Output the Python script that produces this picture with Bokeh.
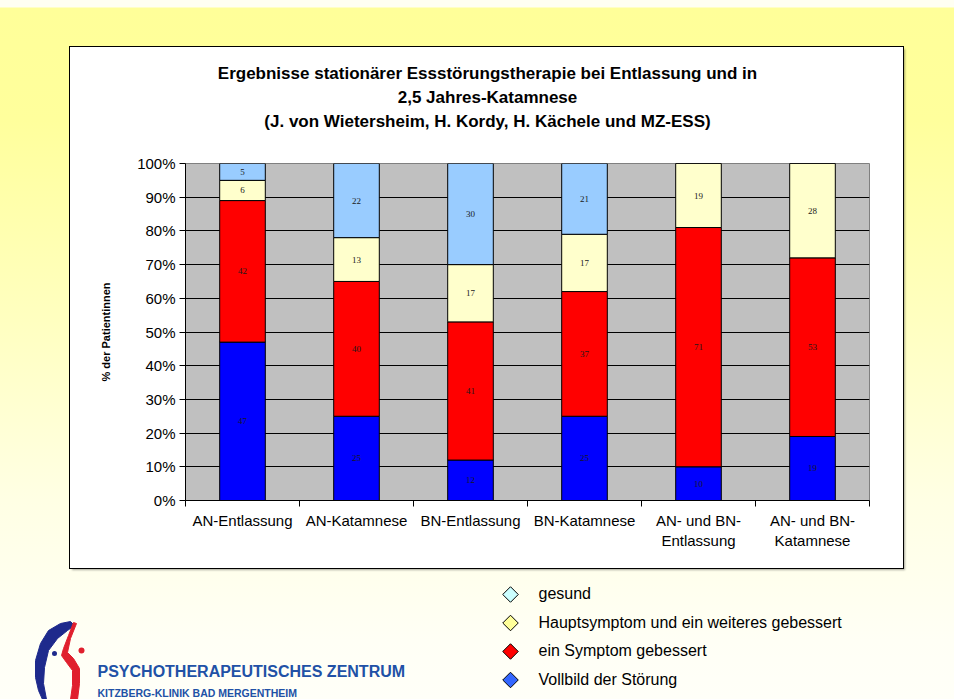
import math
from bokeh.plotting import figure
from bokeh.models import (ColumnDataSource, FixedTicker, NumeralTickFormatter, Range1d,
                          LabelSet, Spacer)
from bokeh.layouts import column, row
from bokeh.core.properties import value
from bokeh.embed import file_html
from bokeh.resources import INLINE

# ---------------- data ----------------
categories = ["AN-Entlassung", "AN-Katamnese", "BN-Entlassung", "BN-Katamnese",
              "AN- und BN-\nEntlassung", "AN- und BN-\nKatamnese"]
vollbild = [47, 25, 12, 25, 10, 19]          # Vollbild der Störung
ein_symptom = [42, 40, 41, 37, 71, 53]       # ein Symptom gebessert
hauptsymptom = [6, 13, 17, 17, 19, 28]       # Hauptsymptom und ein weiteres gebessert
gesund = [5, 22, 30, 21, 0, 0]               # gesund
series_names = ["Vollbild der Störung", "ein Symptom gebessert",
                "Hauptsymptom und ein weiteres gebessert", "gesund"]
y_ticks = [0.0, 0.1, 0.2, 0.3, 0.4, 0.5, 0.6, 0.7, 0.8, 0.9, 1.0]
title_lines = ["Ergebnisse stationärer Essstörungstherapie bei Entlassung und in",
               "2,5 Jahres-Katamnese",
               "(J. von Wietersheim, H. Kordy, H. Kächele und MZ-ESS)"]
y_label = "% der Patientinnen"
logo_lines = ["PSYCHOTHERAPEUTISCHES ZENTRUM", "KITZBERG-KLINIK BAD MERGENTHEIM"]

# ---------------- styles ----------------
bar_colors = ["#0000FF", "#FF0000", "#FFFFCC", "#99CCFF"]
legend_colors = ["#3366FF", "#FF0000", "#FFFF99", "#CCFFFF"]
FONT = "Liberation Sans"

# ---------------- title panel (page coords; frame aligned with chart frame 185..869) ----------------
tf = figure(width=833, height=100, x_range=Range1d(185, 869), y_range=Range1d(147, 47),
            output_backend="svg", toolbar_location=None, x_axis_location=None,
            y_axis_location=None, min_border_left=115, min_border_right=34,
            min_border_top=0, min_border_bottom=0, outline_line_color=None,
            background_fill_color="white", border_fill_color="white")
tf.grid.visible = False
tsrc = ColumnDataSource(dict(x=[487] * len(title_lines),
                             y=[73 + 24 * k for k in range(len(title_lines))],
                             text=title_lines))
tf.text(x="x", y="y", text="text", source=tsrc, text_align="center", text_baseline="middle",
        text_font=value(FONT), text_font_size=value("17px"), text_font_style="bold",
        text_color="black")

# ---------------- chart (page coords 70..903 x 147..568) ----------------
p = figure(width=833, height=421, x_range=Range1d(0, 6), y_range=Range1d(0, 1),
           output_backend="svg", toolbar_location=None,
           min_border_left=115, min_border_right=34, min_border_top=16, min_border_bottom=68,
           background_fill_color="#C0C0C0", border_fill_color="white",
           outline_line_color="#808080", outline_line_width=1)

centers = [i + 0.5 for i in range(len(categories))]
bounds = [i for i in range(len(categories) + 1)]
p.xaxis.ticker = FixedTicker(ticks=centers, minor_ticks=bounds)
p.xaxis.major_label_overrides = {c: lab for c, lab in zip(centers, categories)}
p.xaxis.major_tick_line_color = None
p.xaxis.major_tick_out = 0
p.xaxis.major_tick_in = 0
p.xaxis.minor_tick_line_color = "black"
p.xaxis.minor_tick_out = 6
p.xaxis.minor_tick_in = 0
p.xaxis.axis_line_color = "black"
p.xaxis.major_label_standoff = 5
p.xaxis.major_label_text_font = FONT
p.xaxis.major_label_text_font_size = "15px"
p.xaxis.major_label_text_color = "black"

p.yaxis.ticker = FixedTicker(ticks=y_ticks)
p.yaxis.formatter = NumeralTickFormatter(format="0%")
p.yaxis.major_tick_out = 6
p.yaxis.major_tick_in = 0
p.yaxis.minor_tick_line_color = None
p.yaxis.axis_line_color = "black"
p.yaxis.major_label_standoff = 4
p.yaxis.major_label_text_font = FONT
p.yaxis.major_label_text_font_size = "15px"
p.yaxis.major_label_text_color = "black"
p.yaxis.axis_label = y_label
p.yaxis.axis_label_text_font = FONT
p.yaxis.axis_label_text_font_size = "11px"
p.yaxis.axis_label_text_font_style = "bold"
p.yaxis.axis_label_text_color = "black"
p.yaxis.axis_label_standoff = 22

p.xgrid.grid_line_color = None
p.ygrid.grid_line_color = "black"
p.ygrid.grid_line_width = 1

series = [vollbild, ein_symptom, hauptsymptom, gesund]
bottom = [0.0] * len(categories)
lab_x, lab_y, lab_t = [], [], []
for vals, col in zip(series, bar_colors):
    top = [b + v / 100 for b, v in zip(bottom, vals)]
    src = ColumnDataSource(dict(x=centers, bottom=bottom, top=top))
    p.vbar(x="x", width=0.4, bottom="bottom", top="top", source=src,
           fill_color=col, line_color="black", line_width=1)
    for c, b, t, v in zip(centers, bottom, top, vals):
        if v > 0:
            lab_x.append(c)
            lab_y.append((b + t) / 2)
            lab_t.append(str(v))
    bottom = top

lsrc = ColumnDataSource(dict(x=lab_x, y=lab_y, text=lab_t))
p.add_layout(LabelSet(x="x", y="y", text="text", source=lsrc, text_align="center",
                      text_baseline="middle", text_font=value("Liberation Serif"),
                      text_font_size=value("9px"), text_color="#1a1a1a"))

box = column(tf, p, spacing=0,
             styles={"outline": "1px solid black",
                     "box-shadow": "2px 2px 2px rgba(0,0,0,0.35)",
                     "background": "white"})

# ---------------- bottom strip: legend + logo (page coords 0..954 x 568..699) ----------------
bf = figure(width=954, height=131, x_range=Range1d(0, 954), y_range=Range1d(699, 568),
            output_backend="svg", toolbar_location=None, x_axis_location=None,
            y_axis_location=None, min_border=0, outline_line_color=None,
            background_fill_alpha=0, border_fill_alpha=0)
bf.grid.visible = False

# legend (top to bottom: gesund, Hauptsymptom, ein Symptom, Vollbild)
leg_names = series_names[::-1]
leg_cols = legend_colors[::-1]
n_leg = len(leg_names)
leg_x, leg_top, leg_pitch = 510, 594, 28.5
bf.scatter(x=[leg_x] * n_leg, y=[leg_top + leg_pitch * k for k in range(n_leg)],
           marker="square", angle=math.pi / 4, size=11,
           fill_color=leg_cols, line_color="black", line_width=1)
bf.text(x=[538] * n_leg, y=[leg_top - 1 + 28.7 * k for k in range(n_leg)], text=leg_names,
        text_align="left", text_baseline="middle", text_font=value(FONT),
        text_font_size=value("16px"), text_color="black")

# logo (decorative shapes, page coordinates)
blue_shape_x = [70, 60, 48, 40, 35, 35, 38, 42, 46, 43, 44, 48, 57, 67, 74]
blue_shape_y = [621, 623, 630, 643, 660, 677, 690, 699, 699, 683, 667, 650, 638, 630, 625]
red_shape_x = [73, 68, 63, 61, 66, 72, 72, 70, 77, 79, 79, 73, 67, 70, 76]
red_shape_y = [622, 635, 648, 655, 662, 670, 685, 699, 699, 683, 668, 658, 652, 638, 623]
bf.patch(blue_shape_x, blue_shape_y, fill_color="#1E2A8C", line_color="#1E2A8C", line_width=1)
bf.patch(red_shape_x, red_shape_y, fill_color="#E0202E", line_color="#E0202E", line_width=1)
bf.scatter(x=[54, 81], y=[653, 650], size=[5, 6], marker="circle",
           fill_color=["#1E2A8C", "#E0202E"], line_alpha=0)
bf.text(x=[97], y=[671], text=[logo_lines[0]], text_align="left", text_baseline="middle",
        text_font=value(FONT), text_font_size=value("16px"), text_font_style="bold",
        text_color="#2151A6")
bf.text(x=[97], y=[692], text=[logo_lines[1]], text_align="left", text_baseline="middle",
        text_font=value(FONT), text_font_size=value("10.5px"), text_font_style="bold",
        text_color="#2151A6")

page = column(Spacer(height=47, width=954),
              row(Spacer(width=70, height=521), box, spacing=0),
              bf, spacing=0,
              styles={"background": "linear-gradient(180deg, #fffff2 0px, #fffff2 7px, "
                                    "#ffff99 8px, #ffff9c 120px, #ffffc0 320px, "
                                    "#ffffe4 500px, #fffff5 640px, #fffff8 699px)"})

open("out.html", "w").write(file_html(page, INLINE))
